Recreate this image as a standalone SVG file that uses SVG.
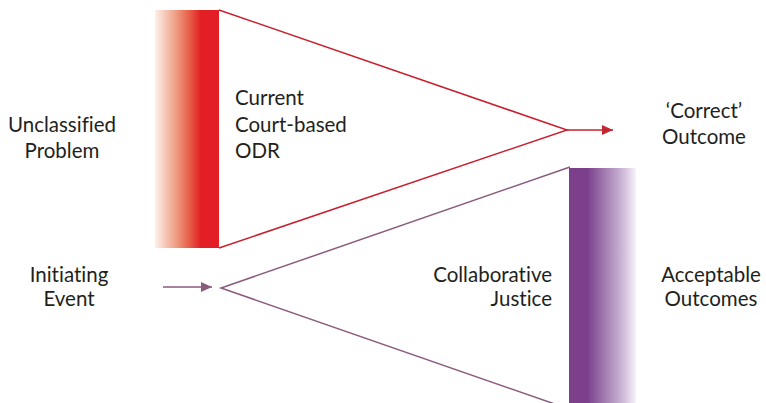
<svg xmlns="http://www.w3.org/2000/svg" width="766" height="403" viewBox="0 0 766 403">
<defs>
<linearGradient id="gRed" x1="0" y1="0" x2="1" y2="0">
<stop offset="0" stop-color="#fdf0ea"/>
<stop offset="0.3" stop-color="#f0a58c"/>
<stop offset="0.55" stop-color="#e75a45"/>
<stop offset="0.72" stop-color="#e31e24"/>
<stop offset="1" stop-color="#e31e24"/>
</linearGradient>
<linearGradient id="gPur" x1="0" y1="0" x2="1" y2="0">
<stop offset="0" stop-color="#7b3f8c"/>
<stop offset="0.27" stop-color="#7b3f8c"/>
<stop offset="0.55" stop-color="#a57fb3"/>
<stop offset="0.8" stop-color="#cdb7d6"/>
<stop offset="1" stop-color="#f8f4f9"/>
</linearGradient>
<marker id="aRed" markerWidth="12" markerHeight="10" refX="11" refY="5" orient="auto" markerUnits="userSpaceOnUse">
<path d="M0,0 L11,5 L0,10 Z" fill="#c1272d"/>
</marker>
<marker id="aPur" markerWidth="12" markerHeight="10" refX="11" refY="5" orient="auto" markerUnits="userSpaceOnUse">
<path d="M0,0 L11,5 L0,10 Z" fill="#8b5a7f"/>
</marker>
<style>
text{font-family:Lato,"Open Sans","Liberation Sans",sans-serif;font-size:20.5px;fill:#231f20;font-variant-ligatures:none}
.red{stroke:#c8202e;stroke-width:1.5;fill:none}
.pur{stroke:#8b5a7f;stroke-width:1.5;fill:none}
</style>
</defs>
<rect width="766" height="403" fill="#ffffff"/>
<g id="red-bar"><rect x="155" y="10" width="64" height="238" fill="url(#gRed)"/></g>
<g id="purple-bar"><rect x="569" y="168" width="67" height="235" fill="url(#gPur)"/></g>
<g id="connectors">
<polyline class="red" points="219,10 567,130 219,248"/>
<line class="red" x1="567" y1="130" x2="613" y2="130" marker-end="url(#aRed)"/>
<polyline class="pur" points="570,167 221,288 572,410"/>
<line class="pur" x1="163" y1="287" x2="212" y2="287" marker-end="url(#aPur)"/>
</g>
<g id="unclassified"><text x="62" y="132" text-anchor="middle">Unclassified</text><text x="62" y="158" text-anchor="middle">Problem</text></g>
<g id="current"><text x="235" y="105">Current</text><text x="235" y="132">Court-based</text><text x="235" y="158">ODR</text></g>
<g id="correct"><text x="704" y="118" text-anchor="middle">‘Correct’</text><text x="704" y="144" text-anchor="middle">Outcome</text></g>
<g id="initiating"><text x="69" y="282" text-anchor="middle">Initiating</text><text x="69" y="306" text-anchor="middle">Event</text></g>
<g id="collaborative"><text x="552" y="282" text-anchor="end">Collaborative</text><text x="552" y="306" text-anchor="end">Justice</text></g>
<g id="acceptable"><text x="711" y="282" text-anchor="middle">Acceptable</text><text x="711" y="306" text-anchor="middle">Outcomes</text></g>
</svg>
